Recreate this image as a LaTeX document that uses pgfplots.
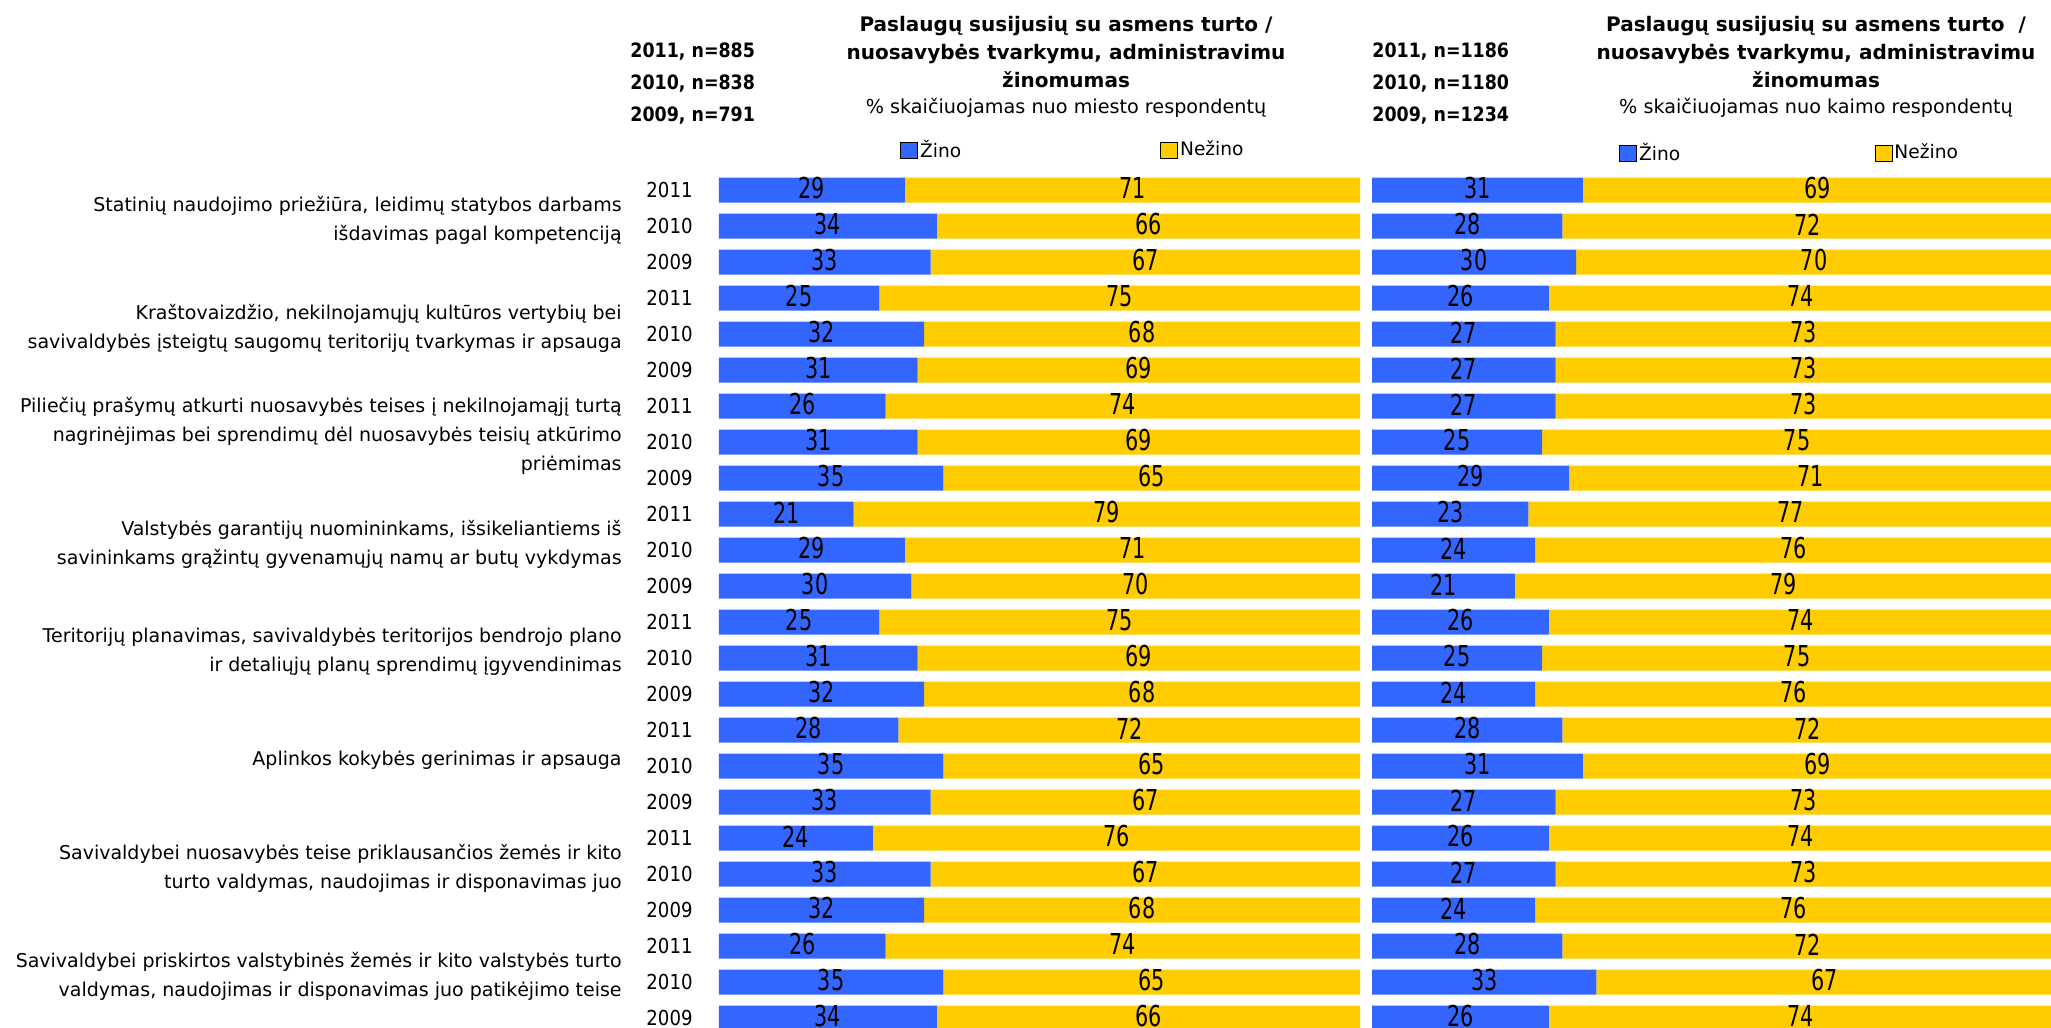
\documentclass[border=0pt]{standalone}
\usepackage{fontspec}
\setmainfont{DejaVu Sans}
\newfontfamily\narrowfont{DejaVu Sans}[FakeStretch=0.88]
\newfontfamily\valfont{DejaVu Sans}[FakeStretch=0.72]
\usepackage{pgfplots}
\usepackage{pgfplotstable}
\pgfplotsset{compat=1.18}

\definecolor{zinoblue}{HTML}{3366FF}
\definecolor{nezinoyellow}{HTML}{FFCC00}

% miesto respondentai
\pgfplotstableread{
row year zino nezino
0 2011 29 71
1 2010 34 66
2 2009 33 67
3 2011 25 75
4 2010 32 68
5 2009 31 69
6 2011 26 74
7 2010 31 69
8 2009 35 65
9 2011 21 79
10 2010 29 71
11 2009 30 70
12 2011 25 75
13 2010 31 69
14 2009 32 68
15 2011 28 72
16 2010 35 65
17 2009 33 67
18 2011 24 76
19 2010 33 67
20 2009 32 68
21 2011 26 74
22 2010 35 65
23 2009 34 66
}\miestas

% kaimo respondentai
\pgfplotstableread{
row year zino nezino
0 2011 31 69
1 2010 28 72
2 2009 30 70
3 2011 26 74
4 2010 27 73
5 2009 27 73
6 2011 27 73
7 2010 25 75
8 2009 29 71
9 2011 23 77
10 2010 24 76
11 2009 21 79
12 2011 26 74
13 2010 25 75
14 2009 24 76
15 2011 28 72
16 2010 31 69
17 2009 27 73
18 2011 26 74
19 2010 27 73
20 2009 24 76
21 2011 28 72
22 2010 33 67
23 2009 26 74
}\kaimas

\pgfplotsset{
  panel/.style={
    scale only axis, height=432pt,
    xmin=0, xmax=100, ymin=-0.5, ymax=23.5, y dir=reverse,
    axis line style={draw=none}, tick style={draw=none},
    xtick=\empty, ytick=\empty, clip=false,
  },
  bars/.style={
    panel, xbar stacked, bar width=12.5pt,
    legend columns=2,
    legend image code/.code={\draw[##1] (0pt,-4pt) rectangle (8.5pt,4pt);},
    legend style={draw=none, fill=none, inner sep=0pt, anchor=west,
      font=\fontsize{9.3}{12}\selectfont, nodes={inner sep=1pt}},
  },
  vals/.style={only marks, mark=*, mark size=0pt, mark options={draw=none, fill=none},
    nodes near coords, point meta=explicit symbolic,
    every node near coord/.append style={anchor=center, inner sep=0pt, yshift=0.8pt,
      font=\valfont\fontsize{14.4}{14.4}\selectfont}},
}
\tikzset{cat/.style={anchor=east, align=right, inner sep=0pt, font=\fontsize{9.5}{14.5}\selectfont}}

\begin{document}
\begin{tikzpicture}
\useasboundingbox (0,0) rectangle (1025.5pt,514pt);

% miesto
\begin{axis}[bars, at={(359.5pt,428pt)}, anchor=north west, width=320.5pt,
  ytick={0,...,23}, yticklabels from table={\miestas}{year},
  yticklabel style={anchor=east, inner sep=0pt, xshift=-13pt, font=\narrowfont\fontsize{10.3}{12}\selectfont},
  legend style={at={(0.2824,1.0255)}, /tikz/every even column/.append style={column sep=98.5pt}}]
\addplot[fill=zinoblue, draw=none] table[x=zino, y=row]{\miestas};
\addlegendentry{Žino}
\addplot[fill=nezinoyellow, draw=none] table[x=nezino, y=row]{\miestas};
\addlegendentry{Nežino}
\node[cat] at ([xshift=-48.5pt, yshift=3pt]axis cs:0,1) {Statinių naudojimo priežiūra, leidimų statybos darbams\\išdavimas pagal kompetenciją};
\node[cat] at ([xshift=-48.5pt, yshift=3pt]axis cs:0,4) {Kraštovaizdžio, nekilnojamųjų kultūros vertybių bei\\savivaldybės įsteigtų saugomų teritorijų tvarkymas ir apsauga};
\node[cat] at ([xshift=-48.5pt, yshift=3pt]axis cs:0,7) {Piliečių prašymų atkurti nuosavybės teises į nekilnojamąjį turtą\\nagrinėjimas bei sprendimų dėl nuosavybės teisių atkūrimo\\priėmimas};
\node[cat] at ([xshift=-48.5pt, yshift=3pt]axis cs:0,10) {Valstybės garantijų nuomininkams, išsikeliantiems iš\\savininkams grąžintų gyvenamųjų namų ar butų vykdymas};
\node[cat] at ([xshift=-48.5pt, yshift=3pt]axis cs:0,13) {Teritorijų planavimas, savivaldybės teritorijos bendrojo plano\\ir detaliųjų planų sprendimų įgyvendinimas};
\node[cat] at ([xshift=-48.5pt, yshift=3pt]axis cs:0,16) {Aplinkos kokybės gerinimas ir apsauga};
\node[cat] at ([xshift=-48.5pt, yshift=3pt]axis cs:0,19) {Savivaldybei nuosavybės teise priklausančios žemės ir kito\\turto valdymas, naudojimas ir disponavimas juo};
\node[cat] at ([xshift=-48.5pt, yshift=3pt]axis cs:0,22) {Savivaldybei priskirtos valstybinės žemės ir kito valstybės turto\\valdymas, naudojimas ir disponavimas juo patikėjimo teise};
\end{axis}
\begin{axis}[panel, hide axis, at={(359.5pt,428pt)}, anchor=north west, width=320.5pt]
\addplot[vals] table[x expr=\thisrow{zino}/2, y=row, meta=zino]{\miestas};
\addplot[vals] table[x expr=\thisrow{zino}+\thisrow{nezino}/2, y=row, meta=nezino]{\miestas};
\end{axis}

% kaimo
\begin{axis}[bars, at={(686pt,428pt)}, anchor=north west, width=340pt,
  legend style={at={(0.3632,1.022)}, /tikz/every even column/.append style={column sep=96.2pt}}]
\addplot[fill=zinoblue, draw=none] table[x=zino, y=row]{\kaimas};
\addlegendentry{Žino}
\addplot[fill=nezinoyellow, draw=none] table[x=nezino, y=row]{\kaimas};
\addlegendentry{Nežino}
\end{axis}
\begin{axis}[panel, hide axis, at={(686pt,428pt)}, anchor=north west, width=340pt]
\addplot[vals] table[x expr=\thisrow{zino}/2, y=row, meta=zino]{\kaimas};
\addplot[vals] table[x expr=\thisrow{zino}+\thisrow{nezino}/2, y=row, meta=nezino]{\kaimas};
\end{axis}

% antraštės
\node[anchor=west, align=left, inner sep=0pt, font=\narrowfont\bfseries\fontsize{9.9}{16}\selectfont] at (315pt,472pt) {2011, n=885\\2010, n=838\\2009, n=791};
\node[align=center, font=\bfseries\fontsize{10}{14}\selectfont] at (533pt,488pt) {Paslaugų susijusių su asmens turto /\\nuosavybės tvarkymu, administravimu\\žinomumas};
\node[font=\fontsize{9.6}{12}\selectfont] at (533pt,460pt) {\% skaičiuojamas nuo miesto respondentų};

\node[anchor=west, align=left, inner sep=0pt, font=\narrowfont\bfseries\fontsize{9.9}{16}\selectfont] at (686pt,472pt) {2011, n=1186\\2010, n=1180\\2009, n=1234};
\node[align=center, font=\bfseries\fontsize{10}{14}\selectfont] at (908pt,488pt) {Paslaugų susijusių su asmens turto \ /\\nuosavybės tvarkymu, administravimu\\žinomumas};
\node[font=\fontsize{9.6}{12}\selectfont] at (908pt,460pt) {\% skaičiuojamas nuo kaimo respondentų};
\end{tikzpicture}
\end{document}
